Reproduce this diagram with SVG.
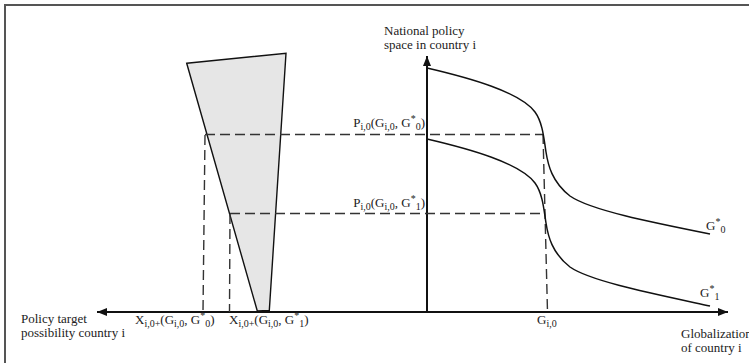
<svg xmlns="http://www.w3.org/2000/svg" width="749" height="363" viewBox="0 0 749 363">
<style>
text{font-family:"Liberation Serif","Times New Roman",serif;font-size:13px;fill:#222}
.s{font-size:10px}
.ax{stroke:#111;stroke-width:2;fill:none}
.cv{stroke:#111;stroke-width:1.5;fill:none}
.ds{stroke:#333;stroke-width:1.4;stroke-dasharray:10 5;fill:none}
</style>
<defs>
<marker id="ah" viewBox="0 0 10 8" refX="10" refY="4" markerWidth="10" markerHeight="8" markerUnits="userSpaceOnUse" orient="auto">
<path d="M0,0 L10,4 L0,8 Z" fill="#111"/>
</marker>
</defs>
<rect width="749" height="363" fill="#fff"/>
<path d="M5,363 V5 H749" fill="none" stroke="#555" stroke-width="2"/>
<g id="cone">
<polygon points="186.7,63.3 286,53.3 269.3,310.5 257.3,311" fill="#e6e6e6" stroke="#111" stroke-width="1.4"/>
</g>
<g id="connectors">
<line class="ax" x1="427" y1="312" x2="97" y2="312" marker-end="url(#ah)"/>
<line class="ax" x1="427" y1="312" x2="728" y2="312" marker-end="url(#ah)"/>
<line class="ax" x1="427" y1="312" x2="427" y2="56" marker-end="url(#ah)"/>
<path class="ds" d="M205,134.5 H543"/>
<path class="ds" d="M230,213.5 H545"/>
<path class="ds" d="M205,135 L203,312"/>
<path class="ds" d="M230,214 L229.5,312"/>
<path class="ds" d="M543,134 L547.5,312"/>
</g>
<g id="curve-g0">
<path class="cv" d="M427,68 C470,78 520,92 535,112 C543,123 544,140 546,152 C548,165 552,182 570,196 C590,210 650,222 710,234"/>
</g>
<g id="curve-g1">
<path class="cv" d="M427,139 C470,149 520,163 535,183 C543,194 544,211 546,223 C548,236 552,253 570,267 C590,281 650,293 710,306"/>
</g>
<g id="labels">
<text x="384" y="35">National policy</text>
<text x="384" y="49">space in country i</text>
<text x="21" y="323">Policy target</text>
<text x="21" y="337">possibility country i</text>
<text x="681" y="338">Globalization</text>
<text x="681" y="352">of country i</text>
<text x="135" y="324">X<tspan class="s" dy="3">i,0+</tspan><tspan dy="-3">(G</tspan><tspan class="s" dy="3">i,0</tspan><tspan dy="-3">, G</tspan><tspan class="s" dy="-5">*</tspan><tspan class="s" dy="8">0</tspan><tspan dy="-3">)</tspan></text>
<text x="229" y="324">X<tspan class="s" dy="3">i,0+</tspan><tspan dy="-3">(G</tspan><tspan class="s" dy="3">i,0</tspan><tspan dy="-3">, G</tspan><tspan class="s" dy="-5">*</tspan><tspan class="s" dy="8">1</tspan><tspan dy="-3">)</tspan></text>
<text x="425" y="127" text-anchor="end">P<tspan class="s" dy="3">i,0</tspan><tspan dy="-3">(G</tspan><tspan class="s" dy="3">i,0</tspan><tspan dy="-3">, G</tspan><tspan class="s" dy="-5">*</tspan><tspan class="s" dy="8">0</tspan><tspan dy="-3">)</tspan></text>
<text x="425" y="207" text-anchor="end">P<tspan class="s" dy="3">i,0</tspan><tspan dy="-3">(G</tspan><tspan class="s" dy="3">i,0</tspan><tspan dy="-3">, G</tspan><tspan class="s" dy="-5">*</tspan><tspan class="s" dy="8">1</tspan><tspan dy="-3">)</tspan></text>
<text x="537" y="324">G<tspan class="s" dy="3">i,0</tspan></text>
<text x="706" y="230">G<tspan class="s" dy="-5">*</tspan><tspan class="s" dy="8">0</tspan></text>
<text x="700" y="297">G<tspan class="s" dy="-5">*</tspan><tspan class="s" dy="8">1</tspan></text>
</g>
</svg>
